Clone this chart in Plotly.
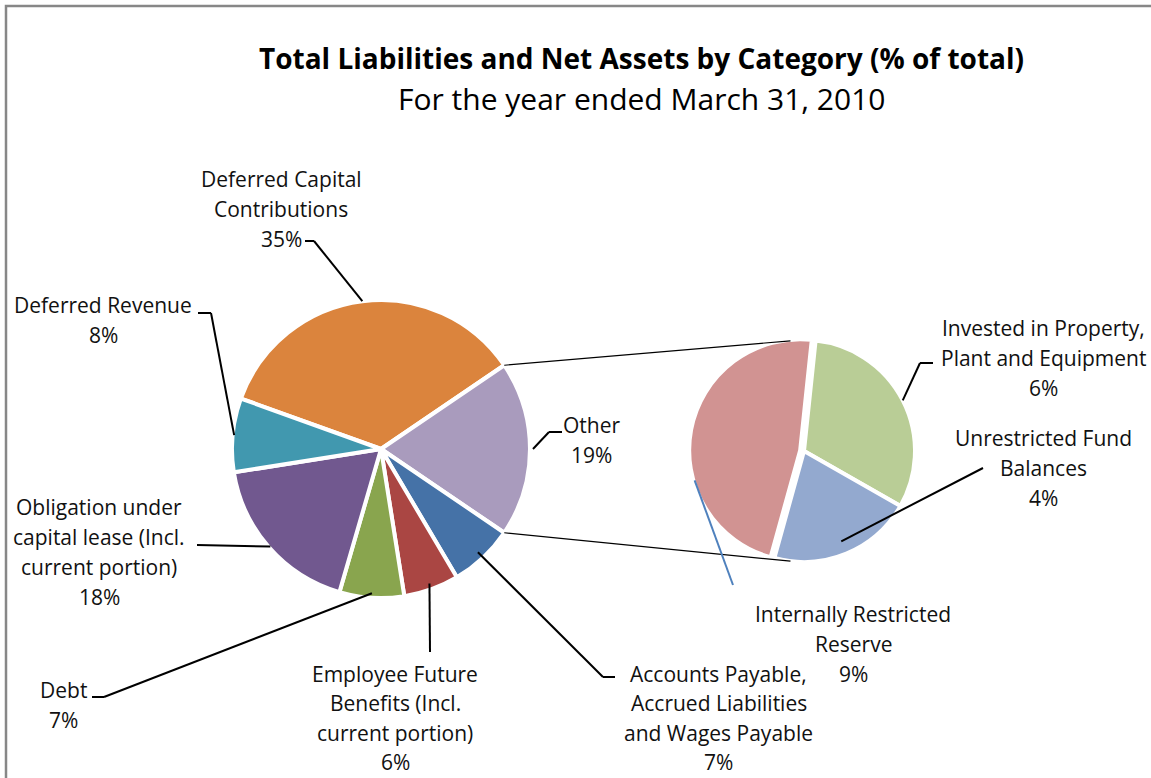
import math
import plotly.graph_objects as go

# ---- data -------------------------------------------------------------
main_labels = [
    "Deferred Capital Contributions",
    "Other",
    "Accounts Payable, Accrued Liabilities and Wages Payable",
    "Employee Future Benefits (Incl. current portion)",
    "Debt",
    "Obligation under capital lease (Incl. current portion)",
    "Deferred Revenue",
]
main_values = [35, 19, 7, 6, 7, 18, 8]
main_colors = ["#DB843D", "#A99BBD", "#4572A7", "#AA4643", "#89A54E", "#71588F", "#4198AF"]

other_labels = [
    "Invested in Property, Plant and Equipment",
    "Unrestricted Fund Balances",
    "Internally Restricted Reserve",
]
other_values = [6, 4, 9]
other_colors = ["#B9CD96", "#93A9CF", "#D19392"]

title_text = "Total Liabilities and Net Assets by Category (% of total)"
subtitle_text = "For the year ended March 31, 2010"

# ---- page geometry (pixels) -------------------------------------------
W, H = 1151, 778
MAIN_C, MAIN_R = (381, 449), 149
SEC_C, SEC_R = (804, 451), 111
SEC_PULL = [0, 0, 0.035]
FONT = "Open Sans"
TXT = "#111111"
LABEL_SIZE = 21


def paper(x, y):
    return x / W, 1 - y / H


def domain(c, r):
    cx, cy = c
    return dict(x=[(cx - r) / W, (cx + r) / W], y=[(H - cy - r) / H, (H - cy + r) / H])


def slice_angles(values, rotation):
    """start / mid / end angles (deg, clockwise from 12 o'clock)."""
    total = sum(values)
    out, a = [], rotation
    for v in values:
        span = 360 * v / total
        out.append((a, a + span / 2, a + span))
        a += span
    return out


def rim(c, r, ang, k=1.0):
    t = math.radians(ang)
    return c[0] + k * r * math.sin(t), c[1] - k * r * math.cos(t)


# main pie: the "Other" slice is centred on 3 o'clock
other_span = 360 * main_values[1] / sum(main_values)
main_rot = 90 - other_span / 2 - 360 * main_values[0] / sum(main_values)
sec_rot = 6

main_ang = slice_angles(main_values, main_rot)
sec_ang = slice_angles(other_values, sec_rot)

fig = go.Figure()
fig.add_trace(go.Pie(
    labels=main_labels, values=main_values, sort=False, direction="clockwise",
    rotation=main_rot, domain=domain(MAIN_C, MAIN_R), textinfo="none", hoverinfo="label+percent",
    marker=dict(colors=main_colors, line=dict(color="white", width=4)), showlegend=False,
))
fig.add_trace(go.Pie(
    labels=other_labels, values=other_values, sort=False, direction="clockwise",
    rotation=sec_rot, domain=domain(SEC_C, SEC_R * (1 + max(SEC_PULL))), pull=SEC_PULL,
    textinfo="none", hoverinfo="label+value",
    marker=dict(colors=other_colors, line=dict(color="white", width=4)), showlegend=False,
))

shapes = []
annotations = []


def seg(p0, p1, color="black", width=2):
    x0, y0 = paper(*p0)
    x1, y1 = paper(*p1)
    shapes.append(dict(type="line", xref="paper", yref="paper", x0=x0, y0=y0, x1=x1, y1=y1,
                       line=dict(color=color, width=width), layer="above"))


def poly(points, color="black", width=2):
    for a, b in zip(points[:-1], points[1:]):
        seg(a, b, color, width)


def label(lines, cx, y0, step=30, size=LABEL_SIZE):
    for i, ln in enumerate(lines):
        x, y = paper(cx, y0 + i * step)
        annotations.append(dict(text=ln, x=x, y=y, xref="paper", yref="paper", showarrow=False,
                                xanchor="center", yanchor="middle",
                                font=dict(family=FONT, size=size, color=TXT)))


# outer frame
fx0, fy0 = paper(6, 6)
fx1, fy1 = paper(W + 20, H + 20)
shapes.append(dict(type="rect", xref="paper", yref="paper", x0=fx0, y0=fy1, x1=fx1, y1=fy0,
                   line=dict(color="#878787", width=2.5)))

# connectors between the "Other" slice and the breakdown pie
seg(rim(MAIN_C, MAIN_R, main_ang[1][0]), rim(SEC_C, SEC_R, -7), width=1.2)
seg(rim(MAIN_C, MAIN_R, main_ang[1][2]), rim(SEC_C, SEC_R, 187), width=1.2)

# main pie labels and leaders
label(["Deferred Capital", "Contributions", "35%"], 281, 179)
poly([(305, 241), (314, 241), rim(MAIN_C, MAIN_R, main_ang[0][1])])

label(["Other", "19%"], 591, 425)
poly([(562, 432), (549, 432), rim(MAIN_C, MAIN_R, main_ang[1][1], 1.02)])

label(["Accounts Payable,", "Accrued Liabilities", "and Wages Payable", "7%"], 719, 674, step=29.3)
poly([(615, 677), (603, 677), rim(MAIN_C, MAIN_R, main_ang[2][1], 0.95)])

label(["Employee Future", "Benefits (Incl.", "current portion)", "6%"], 395, 674, step=29.3)
poly([(430, 652), rim(MAIN_C, MAIN_R, main_ang[3][1], 0.96)])

label(["Debt", "7%"], 64, 690)
poly([(92, 697), (104, 697), rim(MAIN_C, MAIN_R, main_ang[4][1], 0.97)])

label(["Obligation under", "capital lease (Incl.", "current portion)", "18%"], 99, 507)
poly([(197, 545), rim(MAIN_C, MAIN_R, main_ang[5][1], 0.99)])

label(["Deferred Revenue", "8%"], 103, 305)
poly([(198, 313), (211, 313), rim(MAIN_C, MAIN_R, main_ang[6][1], 0.99)])

# breakdown pie labels and leaders
label(["Invested in Property,", "Plant and Equipment", "6%"], 1043, 328)
poly([(933, 363), (920, 363), rim(SEC_C, SEC_R, sec_ang[0][1], 1.0)])

label(["Unrestricted Fund", "Balances", "4%"], 1043, 438)
poly([(983, 468), rim(SEC_C, SEC_R, sec_ang[1][1], 0.88)])

label(["Internally Restricted", "Reserve", "9%"], 853, 614)
poly([(733, 585), rim(SEC_C, SEC_R, 255, 1.02)], color="#4F81BD", width=2)

# title block
tx, ty = paper(641, 58)
annotations.append(dict(text="<b>" + title_text + "</b>", x=tx, y=ty, xref="paper", yref="paper",
                        showarrow=False, xanchor="center", yanchor="middle",
                        font=dict(family=FONT, size=28, color="black")))
sx, sy = paper(641, 98)
annotations.append(dict(text=subtitle_text, x=sx, y=sy, xref="paper", yref="paper",
                        showarrow=False, xanchor="center", yanchor="middle",
                        font=dict(family=FONT, size=30, color="black")))

fig.update_layout(
    width=W, height=H, margin=dict(l=0, r=0, t=0, b=0),
    paper_bgcolor="white", plot_bgcolor="white",
    shapes=shapes, annotations=annotations,
)

fig.write_html("out.html")
